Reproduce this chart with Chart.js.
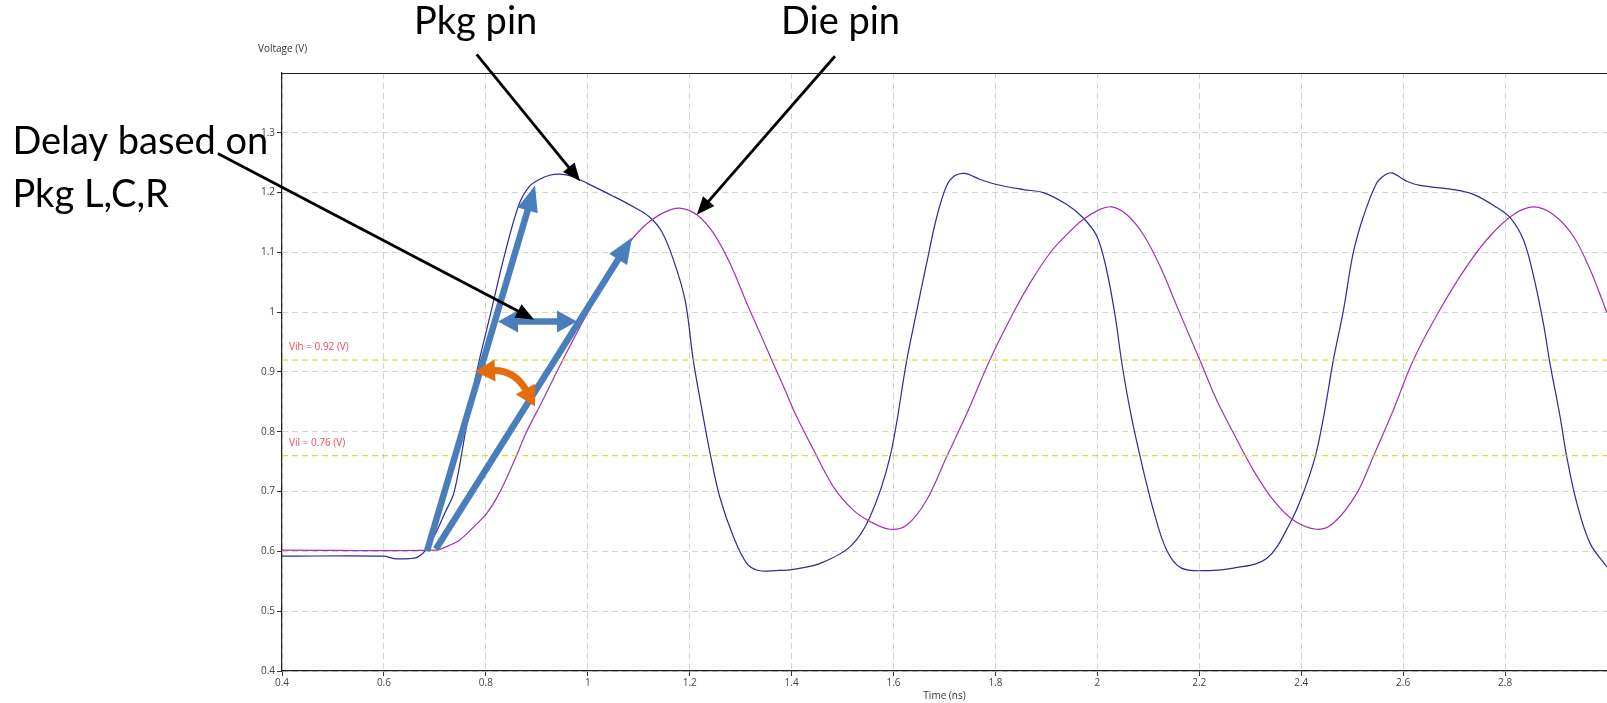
<!DOCTYPE html>
<html>
<head>
<meta charset="utf-8">
<script src="https://cdn.jsdelivr.net/npm/chart.js@4.4.1/dist/chart.umd.min.js"></script>
<style>
  html, body { margin: 0; padding: 0; background: #fff; overflow: hidden; }
</style>
</head>
<body>
<canvas id="wave" width="1607" height="703"></canvas>
<script>
// Pkg pin waveform (time in ns, voltage in V)
const pkgTime = [0.40, 0.60, 0.62, 0.65, 0.665, 0.68, 0.70, 0.72, 0.738, 0.76, 0.782, 0.81, 0.838, 0.865, 0.885, 0.905, 0.925, 0.945, 0.97,
  1.00, 1.05, 1.09, 1.12, 1.145, 1.168, 1.191, 1.207, 1.224, 1.24, 1.259, 1.286, 1.312, 1.335, 1.37, 1.403, 1.456, 1.515, 1.554, 1.593,
  1.626, 1.645, 1.665, 1.685, 1.704, 1.72, 1.74, 1.77, 1.80, 1.855, 1.894, 1.94, 1.972, 1.999, 2.018, 2.035, 2.048, 2.064, 2.084, 2.11,
  2.136, 2.165, 2.22, 2.267, 2.332, 2.378, 2.405, 2.428, 2.445, 2.463, 2.483, 2.502, 2.522, 2.548, 2.565, 2.578, 2.595, 2.607, 2.633,
  2.699, 2.738, 2.784, 2.81, 2.836, 2.856, 2.875, 2.888, 2.908, 2.921, 2.941, 2.967, 3.00];
const pkgVolt = [0.592, 0.592, 0.588, 0.588, 0.590, 0.600, 0.628, 0.665, 0.700, 0.800, 0.900, 1.000, 1.100, 1.180, 1.210, 1.222, 1.229, 1.231, 1.227,
  1.215, 1.194, 1.176, 1.160, 1.135, 1.088, 1.020, 0.920, 0.837, 0.764, 0.691, 0.624, 0.580, 0.568, 0.568, 0.570, 0.580, 0.608, 0.658, 0.758,
  0.920, 1.000, 1.082, 1.160, 1.211, 1.228, 1.232, 1.222, 1.214, 1.205, 1.200, 1.180, 1.158, 1.127, 1.071, 0.993, 0.915, 0.837, 0.758, 0.669,
  0.602, 0.572, 0.568, 0.572, 0.588, 0.647, 0.700, 0.760, 0.830, 0.920, 1.004, 1.099, 1.160, 1.216, 1.230, 1.233, 1.225, 1.219, 1.212,
  1.205, 1.197, 1.175, 1.158, 1.121, 1.060, 0.982, 0.915, 0.825, 0.758, 0.680, 0.613, 0.574];

// Die pin waveform
const dieTime = [0.40, 0.70, 0.723, 0.75, 0.775, 0.802, 0.828, 0.855, 0.88, 0.91, 0.939, 0.96, 1.00, 1.04, 1.077, 1.10, 1.122, 1.15, 1.18,
  1.214, 1.246, 1.279, 1.312, 1.338, 1.361, 1.384, 1.41, 1.443, 1.482, 1.521, 1.554, 1.593, 1.626, 1.665, 1.704, 1.744, 1.789, 1.835,
  1.868, 1.907, 1.94, 1.972, 2.005, 2.028, 2.058, 2.09, 2.123, 2.156, 2.201, 2.234, 2.267, 2.306, 2.345, 2.385, 2.43, 2.463, 2.509,
  2.541, 2.581, 2.62, 2.672, 2.725, 2.77, 2.816, 2.856, 2.895, 2.934, 2.967, 3.00];
const dieVolt = [0.602, 0.602, 0.608, 0.620, 0.640, 0.664, 0.700, 0.750, 0.800, 0.850, 0.900, 0.935, 1.000, 1.060, 1.111, 1.135, 1.152, 1.167, 1.174,
  1.163, 1.133, 1.082, 1.015, 0.965, 0.920, 0.876, 0.825, 0.770, 0.708, 0.669, 0.650, 0.637, 0.644, 0.686, 0.758, 0.831, 0.920, 0.999,
  1.049, 1.099, 1.130, 1.155, 1.172, 1.176, 1.163, 1.130, 1.077, 1.010, 0.920, 0.853, 0.798, 0.736, 0.686, 0.652, 0.637, 0.647, 0.697,
  0.758, 0.837, 0.920, 1.004, 1.077, 1.127, 1.163, 1.176, 1.163, 1.127, 1.071, 0.999];

// input thresholds
const thresholdNames = ['Vih', 'Vil'];
const thresholdVolts = [0.92, 0.76];

// tick labels
const xTicks = [0.4, 0.6, 0.8, 1.0, 1.2, 1.4, 1.6, 1.8, 2.0, 2.2, 2.4, 2.6, 2.8];
const yTicks = [0.4, 0.5, 0.6, 0.7, 0.8, 0.9, 1.0, 1.1, 1.2, 1.3];

// slide callouts, anchored in data units (ns, V)
const callouts = [
  { text: 'Pkg pin', at: [0.780, 1.465], align: 'center', from: [0.782, 1.431], to: [0.985, 1.219] },
  { text: 'Die pin', at: [1.496, 1.465], align: 'center', from: [1.485, 1.428], to: [1.214, 1.163] },
  { text: 'Delay based on', at: [-0.129, 1.265], align: 'left', from: [0.274, 1.2655], to: [0.8945, 0.988] },
  { text: 'Pkg L,C,R', at: [-0.129, 1.176], align: 'left' }
];
const slopeArrows = [
  { from: [0.6845, 0.6005], to: [0.8965, 1.212] },
  { from: [0.702, 0.604], to: [1.0868, 1.125] }
];
const delaySpan = { from: [0.8239, 0.9846], to: [0.9789, 0.9846] };
const angleArc = { from: [0.7787, 0.9008], ctrl: [0.8567, 0.9043], to: [0.8965, 0.8422] };

const zip = (xs, ys) => xs.map((x, i) => ({ x: x, y: ys[i] }));
const fmt = v => String(+v.toFixed(2));

const uiFont = "'Open Sans', 'Noto Sans', sans-serif";
const slideFont = "Lato, 'Noto Sans', sans-serif";
const blueArrow = '#4a7ebb';
const orangeArrow = '#e46c0a';

function head(ctx, tx, ty, ang, len, w, color) {
  ctx.save();
  ctx.translate(tx, ty);
  ctx.rotate(ang);
  ctx.fillStyle = color;
  ctx.beginPath();
  ctx.moveTo(0, 0);
  ctx.lineTo(-len, -w / 2);
  ctx.lineTo(-len, w / 2);
  ctx.closePath();
  ctx.fill();
  ctx.restore();
}

function arrow(ctx, x1, y1, x2, y2, width, len, w, color, both) {
  const ang = Math.atan2(y2 - y1, x2 - x1);
  const cx = Math.cos(ang), sy = Math.sin(ang);
  ctx.save();
  ctx.strokeStyle = color;
  ctx.lineWidth = width;
  ctx.lineCap = 'butt';
  ctx.beginPath();
  ctx.moveTo(both ? x1 + cx * (len - 2) : x1, both ? y1 + sy * (len - 2) : y1);
  ctx.lineTo(x2 - cx * (len - 2), y2 - sy * (len - 2));
  ctx.stroke();
  ctx.restore();
  head(ctx, x2, y2, ang, len, w, color);
  if (both) head(ctx, x1, y1, ang + Math.PI, len, w, color);
}

const overlay = {
  id: 'overlay',
  afterDatasetsDraw(chart) {
    const { ctx, chartArea, scales: { x, y } } = chart;
    ctx.save();
    ctx.font = '10px ' + uiFont;
    ctx.fillStyle = '#ee4b5a';
    ctx.textAlign = 'left';
    ctx.textBaseline = 'middle';
    thresholdNames.forEach((n, i) => {
      const v = thresholdVolts[i];
      ctx.fillText(n + ' = ' + v + ' (V)', chartArea.left + 7, y.getPixelForValue(v) - 13);
    });
    ctx.restore();
  },
  afterDraw(chart) {
    const { ctx, chartArea, scales: { x, y } } = chart;
    const px = p => [x.getPixelForValue(p[0]), y.getPixelForValue(p[1])];

    // frame top edge and axis caption
    ctx.save();
    ctx.strokeStyle = '#222';
    ctx.lineWidth = 1.2;
    ctx.beginPath();
    ctx.moveTo(chartArea.left, chartArea.top + 0.5);
    ctx.lineTo(chartArea.right, chartArea.top + 0.5);
    ctx.stroke();
    ctx.font = '10px ' + uiFont;
    ctx.fillStyle = '#333';
    ctx.textBaseline = 'middle';
    ctx.fillText('Voltage (V)', chartArea.left - 24, chartArea.top - 24);
    ctx.restore();

    // blue slope arrows
    slopeArrows.forEach(a => {
      const p = px(a.from), q = px(a.to);
      arrow(ctx, p[0], p[1], q[0], q[1], 6.5, 26, 21, blueArrow, false);
    });
    const s1 = px(delaySpan.from), s2 = px(delaySpan.to);
    arrow(ctx, s1[0], s1[1], s2[0], s2[1], 6.5, 20, 22, blueArrow, true);

    // orange angle arc
    const a1 = px(angleArc.from), ac = px(angleArc.ctrl), a2 = px(angleArc.to);
    const L = 20;
    const ang1 = Math.atan2(a1[1] - ac[1], a1[0] - ac[0]);
    const ang2 = Math.atan2(a2[1] - ac[1], a2[0] - ac[0]);
    ctx.save();
    ctx.strokeStyle = orangeArrow;
    ctx.lineWidth = 7;
    ctx.beginPath();
    ctx.moveTo(a1[0] - Math.cos(ang1) * (L - 3), a1[1] - Math.sin(ang1) * (L - 3));
    ctx.quadraticCurveTo(ac[0], ac[1], a2[0] - Math.cos(ang2) * (L - 3), a2[1] - Math.sin(ang2) * (L - 3));
    ctx.stroke();
    ctx.restore();
    head(ctx, a1[0], a1[1], ang1, L, 22, orangeArrow);
    head(ctx, a2[0], a2[1], ang2, L, 22, orangeArrow);

    // callout text and black pointers
    ctx.save();
    ctx.font = '38px ' + slideFont;
    ctx.fillStyle = '#000';
    ctx.textBaseline = 'alphabetic';
    callouts.forEach(c => {
      const t = px(c.at);
      ctx.textAlign = c.align;
      ctx.fillText(c.text, t[0], t[1]);
      if (c.from) {
        const p = px(c.from), q = px(c.to);
        arrow(ctx, p[0], p[1], q[0], q[1], 2.8, 18, 15, '#000', false);
      }
    });
    ctx.restore();
  }
};

const tickFont = { family: uiFont, size: 10 };

new Chart(document.getElementById('wave').getContext('2d'), {
  type: 'line',
  data: {
    datasets: [
      ...thresholdNames.map((n, i) => ({
        label: n,
        data: [{ x: 0.4, y: thresholdVolts[i] }, { x: 3.0, y: thresholdVolts[i] }],
        borderColor: '#d4d400',
        borderWidth: 1,
        borderDash: [6, 4],
        tension: 0
      })),
      { label: 'Die pin', data: zip(dieTime, dieVolt), borderColor: '#a233b0', borderWidth: 1.2 },
      { label: 'Pkg pin', data: zip(pkgTime, pkgVolt), borderColor: '#2b2b9e', borderWidth: 1.2 }
    ]
  },
  options: {
    responsive: false,
    animation: false,
    devicePixelRatio: 1,
    layout: { padding: { top: 73, left: 0, right: 0, bottom: 0 } },
    elements: { point: { radius: 0 }, line: { tension: 0.35 } },
    plugins: { legend: { display: false }, tooltip: { enabled: false } },
    scales: {
      x: {
        type: 'linear', min: 0.4, max: 3.0,
        afterBuildTicks: s => { s.ticks = xTicks.map(v => ({ value: v })); },
        afterFit: s => { s.height = 32; },
        ticks: { callback: fmt, font: tickFont, color: '#444', padding: 1, maxRotation: 0, autoSkip: false },
        grid: { color: '#d2d2d2', lineWidth: 1, tickLength: 5, tickColor: '#333', tickBorderDash: [] },
        border: { color: '#222', width: 1.2, dash: [6, 4] },
        title: { display: true, text: 'Time (ns)', font: tickFont, color: '#333', padding: { top: 0, bottom: 1 } }
      },
      y: {
        min: 0.4, max: 1.4,
        afterBuildTicks: s => { s.ticks = yTicks.map(v => ({ value: v })); },
        afterFit: s => { s.width = 282; },
        ticks: { callback: fmt, font: tickFont, color: '#444', padding: 2, autoSkip: false },
        grid: { color: '#d2d2d2', lineWidth: 1, tickLength: 5, tickColor: '#333', tickBorderDash: [] },
        border: { color: '#222', width: 1.2, dash: [6, 4] }
      }
    }
  },
  plugins: [overlay]
});
</script>
</body>
</html>
